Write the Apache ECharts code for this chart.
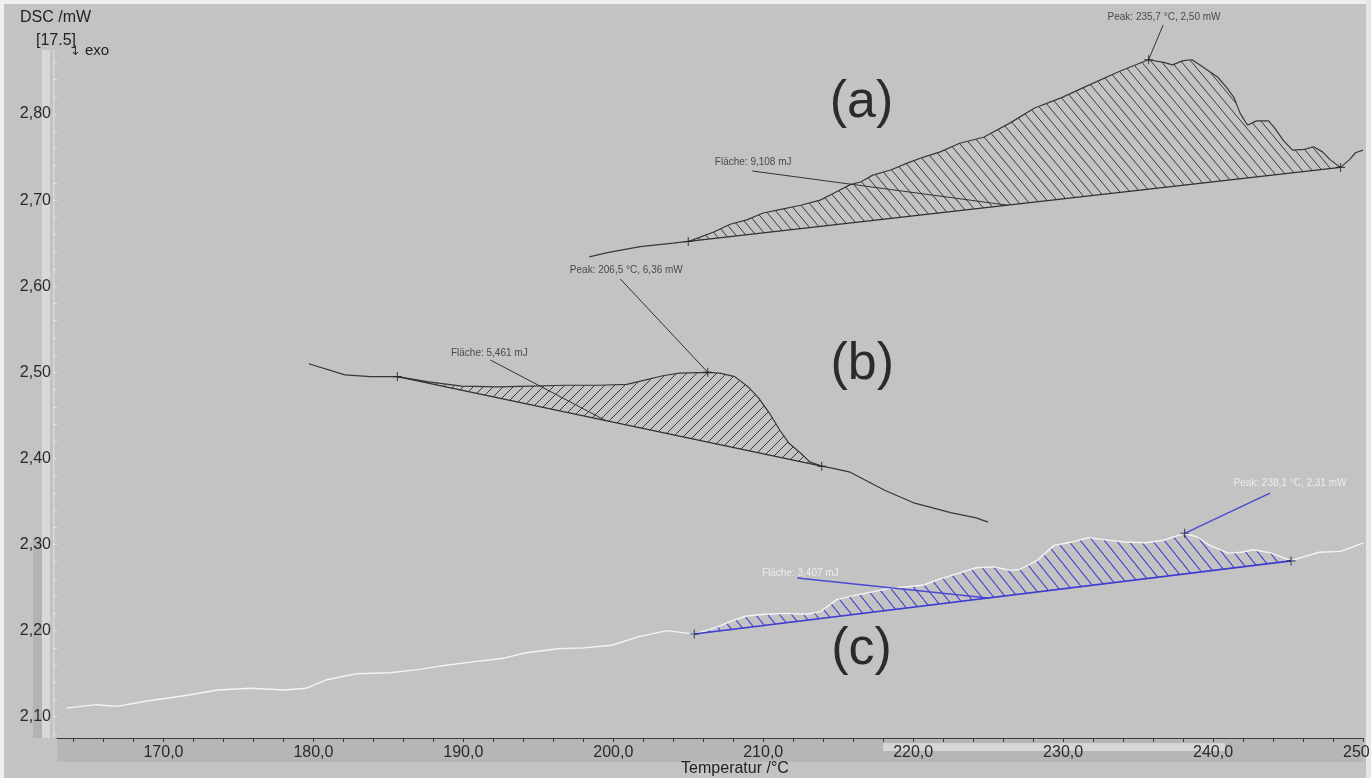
<!DOCTYPE html>
<html><head><meta charset="utf-8">
<script src="https://cdn.jsdelivr.net/npm/echarts@6/dist/echarts.min.js"></script>
<style>html,body{margin:0;padding:0;background:#c3c3c3}#c{width:1371px;height:778px}</style>
</head><body><div id="c"></div>
<script>
// ---------- data ----------
const aT = [198.4,199.6,201.8,204.0,205.0,205.8,206.7,207.8,208.9,210.0,211.1,212.5,213.8,214.7,215.8,216.5,217.3,218.5,219.6,220.7,221.8,223.1,224.7,226.5,228.1,229.9,231.9,233.7,235.1,235.7,236.7,237.3,238.0,238.6,239.3,240.3,240.9,241.4,241.8,242.3,242.9,243.7,244.1,244.7,245.3,246.1,246.7,247.3,247.8,248.5,249.1,249.5,250.0];
const aV = [2.634,2.639,2.646,2.650,2.652,2.657,2.663,2.672,2.677,2.685,2.689,2.694,2.700,2.708,2.718,2.721,2.729,2.735,2.743,2.750,2.756,2.766,2.773,2.790,2.807,2.819,2.835,2.849,2.859,2.863,2.860,2.857,2.862,2.863,2.855,2.843,2.831,2.819,2.801,2.787,2.792,2.792,2.784,2.769,2.758,2.759,2.762,2.756,2.747,2.738,2.747,2.755,2.758];
const bT = [179.7,182.1,183.8,185.6,187.7,189.9,192.3,194.5,196.8,199.1,200.9,202.1,203.3,204.4,206.3,207.1,208.1,209.0,209.7,210.4,211.1,211.7,212.5,213.1,213.9,214.5,215.8,218.1,220.1,222.5,224.2,225.0];
const bV = [2.510,2.497,2.495,2.495,2.489,2.484,2.483,2.484,2.485,2.485,2.486,2.491,2.496,2.499,2.500,2.499,2.495,2.483,2.470,2.453,2.433,2.418,2.406,2.396,2.391,2.389,2.384,2.363,2.348,2.337,2.331,2.326];
const cT = [163.5,165.5,166.9,168.8,171.6,173.6,175.8,178.1,179.5,180.9,182.9,185.1,187.1,188.5,190.7,192.7,194.1,196.3,198.0,199.9,201.7,203.6,204.5,205.4,206.9,208.0,208.9,210.1,211.5,212.9,213.8,214.9,216.1,217.3,218.4,219.6,220.7,221.6,223.1,224.2,225.4,226.5,227.1,228.3,229.4,230.6,231.7,232.6,234.1,235.5,236.7,238.1,238.9,239.8,241.0,241.9,242.7,243.9,245.2,245.9,247.1,248.5,249.3,250.0];
const cV = [2.110,2.114,2.112,2.118,2.125,2.131,2.133,2.131,2.133,2.143,2.150,2.151,2.155,2.159,2.164,2.168,2.174,2.179,2.180,2.183,2.193,2.200,2.198,2.196,2.204,2.212,2.217,2.219,2.220,2.219,2.222,2.236,2.241,2.245,2.249,2.251,2.253,2.259,2.267,2.273,2.274,2.270,2.271,2.282,2.299,2.303,2.308,2.306,2.303,2.302,2.305,2.313,2.309,2.299,2.290,2.291,2.294,2.290,2.281,2.285,2.291,2.292,2.297,2.302];
// onset, peak, end temperatures of each evaluated effect
const aMarkT = [205.0, 235.7, 248.5];
const bMarkT = [185.6, 206.3, 213.9];
const cMarkT = [205.4, 238.1, 245.2];
const peakTexts = ['Peak: 235,7 °C, 2,50 mW', 'Peak: 206,5 °C, 6,36 mW', 'Peak: 238,1 °C, 2,31 mW'];
const areaTexts = ['Fläche: 9,108 mJ', 'Fläche: 5,461 mJ', 'Fläche: 3,407 mJ'];
const curveTags = ['(a)', '(b)', '(c)'];
const xLabelValues = [170, 180, 190, 200, 210, 220, 230, 240, 250];
const yLabelValues = [2.1, 2.2, 2.3, 2.4, 2.5, 2.6, 2.7, 2.8];

// ---------- layout (annotation anchors in data space) ----------
const annot = [
  {peakText:[236.73,2.9127], peakFrom:[236.67,2.9034], areaText:[209.33,2.7443], areaFrom:[209.27,2.7338], areaToT:226.3, tag:[216.55,2.8130]},
  {peakText:[200.87,2.6188], peakFrom:[200.47,2.6084], areaText:[191.73,2.5224], areaFrom:[191.80,2.5143], areaToT:199.5, tag:[216.60,2.5085]},
  {peakText:[245.13,2.3714], peakFrom:[243.80,2.3598], areaText:[212.47,2.2669], areaFrom:[212.27,2.2611], areaToT:225.0, tag:[216.55,2.1775]}
];

// tileable hatch: horizontal period p, tile height h (slope h/p)
function hatchPattern(p, h, color, width, dir) {
  const cv = document.createElement('canvas');
  cv.width = p; cv.height = h;
  const g = cv.getContext('2d');
  g.strokeStyle = color; g.lineWidth = width;
  g.beginPath();
  for (let k = -1; k <= 1; k++) {
    if (dir === 'back') { g.moveTo(k * p, 0); g.lineTo((k + 1) * p, h); }
    else { g.moveTo((k + 1) * p, 0); g.lineTo(k * p, h); }
  }
  g.stroke();
  return {image: cv, repeat: 'repeat'};
}

const styles = [
  {T:aT, V:aV, marks:aMarkT, line:'#383838', lw:1.2, base:'#303030', blw:1.2, hatch:hatchPattern(10,12,'#3a3a3a',1,'back'), mark:'#222', leader:'#333', text:'#2a2a2a'},
  {T:bT, V:bV, marks:bMarkT, line:'#383838', lw:1.2, base:'#303030', blw:1.2, hatch:hatchPattern(10,10,'#3a3a3a',1,'fwd'), mark:'#222', leader:'#333', text:'#2a2a2a'},
  {T:cT, V:cV, marks:cMarkT, line:'#f4f4f4', lw:1.4, base:'#3c3cd0', blw:1.6, hatch:hatchPattern(12,15,'#4a4acc',1.1,'back'), mark:'#20204a', leader:'#4a4ad0', text:'#f8f8f8'}
];

function at(ts, vs, t) { return vs[ts.indexOf(t)]; }

const series = [];
styles.forEach((s, i) => {
  const on = s.marks[0], pk = s.marks[1], en = s.marks[2];
  const vOn = at(s.T, s.V, on), vPk = at(s.T, s.V, pk), vEn = at(s.T, s.V, en);
  const baseAt = t => vOn + (t - on) / (en - on) * (vEn - vOn);
  const poly = [];
  s.T.forEach((t, j) => { if (t >= on && t <= en) poly.push([t, s.V[j]]); });
  poly.push([en, vEn]); poly.push([on, vOn]);
  series.push({
    type: 'custom', coordinateSystem: 'cartesian2d', silent: true, z: 2, data: poly,
    renderItem: (params, api) => {
      if (params.dataIndex !== 0) return null;
      return {type: 'polygon', shape: {points: poly.map(p => api.coord(p))}, style: {fill: s.hatch, stroke: null}};
    }
  });
  series.push({type:'line', data: s.T.map((t, j) => [t, s.V[j]]), symbol:'none', z:3, silent:true,
    lineStyle:{color:s.line, width:s.lw}});
  series.push({type:'line', data: [[on, vOn], [en, vEn]], symbol:'none', z:3, silent:true,
    lineStyle:{color:s.base, width:s.blw}});
  const a = annot[i];
  series.push({type:'line', data: [a.peakFrom, [pk, vPk]], symbol:'none', z:4, silent:true,
    lineStyle:{color:s.leader, width: i === 2 ? 1.4 : 1}});
  series.push({type:'line', data: [a.areaFrom, [a.areaToT, baseAt(a.areaToT)]], symbol:'none', z:4, silent:true,
    lineStyle:{color:s.leader, width: i === 2 ? 1.4 : 1}});
  series.push({type:'scatter', data: s.marks.map(t => [t, at(s.T, s.V, t)]), z:5, silent:true,
    symbol:'path://M4.4,0h1.2v4.4h4.4v1.2h-4.4v4.4h-1.2v-4.4h-4.4v-1.2h4.4z', symbolSize:9,
    itemStyle:{color:s.mark}});
  series.push({type:'scatter', z:6, silent:true, symbolSize:0.1, itemStyle:{color:'transparent'},
    data: [{name: peakTexts[i], value: a.peakText}, {name: areaTexts[i], value: a.areaText}],
    label:{show:true, position:'inside', formatter:'{b}', color:s.text, fontSize:10,
      fontFamily:'Liberation Sans, Arial, sans-serif'}});
  series.push({type:'scatter', z:6, silent:true, symbolSize:0.1, itemStyle:{color:'transparent'},
    data: [{name: curveTags[i], value: a.tag}],
    label:{show:true, position:'inside', formatter:'{b}', color:'#050505', fontSize:52,
      fontFamily:'Liberation Sans, Arial, sans-serif'}});
});

const xTicks = []; for (let v = 164; v <= 250; v += 2) xTicks.push(v);
const yTicks = []; for (let k = 104; k <= 143; k++) yTicks.push(k / 50);

const font = 'Liberation Sans, Arial, sans-serif';
const option = {
  animation: false,
  backgroundColor: '#c3c3c3',
  grid: {left: 57, right: 8, top: 5, bottom: 40, containLabel: false, outerBoundsMode: 'none'},
  xAxis: {
    type: 'value', min: 162.9, max: 250,
    axisLine: {show: true, onZero: false, lineStyle: {color: '#3a3a3a', width: 1}},
    axisTick: {show: true, customValues: xTicks, length: 4, lineStyle: {color: '#3a3a3a'}},
    axisLabel: {customValues: xLabelValues, formatter: v => v.toFixed(1).replace('.', ','),
      color: '#2a2a2a', fontSize: 16, fontFamily: font, margin: 7, hideOverlap: false},
    splitLine: {show: false}
  },
  yAxis: {
    type: 'value', min: 2.0753, max: 2.9266,
    axisLine: {show: false},
    axisTick: {show: true, customValues: yTicks, length: 4, lineStyle: {color: '#e4e4e4'}},
    axisLabel: {customValues: yLabelValues, formatter: v => v.toFixed(2).replace('.', ','),
      color: '#2a2a2a', fontSize: 16, fontFamily: font, margin: 6},
    splitLine: {show: false}
  },
  graphic: [
    {type:'rect', z:-10, shape:{x:0, y:0, width:1371, height:4}, style:{fill:'#efefef'}},
    {type:'rect', z:-10, shape:{x:0, y:0, width:4, height:778}, style:{fill:'#efefef'}},
    {type:'rect', z:-10, shape:{x:1366, y:0, width:5, height:778}, style:{fill:'#e6e6e6'}},
    {type:'rect', z:-10, shape:{x:33, y:540, width:9, height:198}, style:{fill:'#b3b3b3'}},
    {type:'rect', z:-10, shape:{x:42, y:50, width:8, height:688}, style:{fill:'#d8d8d8'}},
    {type:'rect', z:-10, shape:{x:53, y:50, width:1.5, height:688}, style:{fill:'#d8d8d8'}},
    {type:'rect', z:-10, shape:{x:57, y:739, width:1306, height:23}, style:{fill:'#b6b6b6'}},
    {type:'rect', z:-10, shape:{x:883, y:743, width:342, height:8}, style:{fill:'#d6d6d6'}},
    {type:'text', z:10, style:{text:'DSC /mW', x:20, y:18, fill:'#222', font:'16px ' + font, textVerticalAlign:'middle'}},
    {type:'text', z:10, style:{text:'[17.5]', x:36, y:41, fill:'#222', font:'16px ' + font, textVerticalAlign:'middle'}},
    {type:'text', z:10, style:{text:'↓', x:70, y:52, fill:'#333', font:'13px DejaVu Sans', textVerticalAlign:'middle'}},
    {type:'text', z:10, style:{text:'exo', x:85, y:51, fill:'#222', font:'15px ' + font, textVerticalAlign:'middle'}},
    {type:'text', z:10, style:{text:'Temperatur /°C', x:735, y:769, fill:'#222', font:'16px ' + font, textAlign:'center', textVerticalAlign:'middle'}}
  ],
  series: series
};
const chart = echarts.init(document.getElementById('c'));
chart.setOption(option);
</script></body></html>
